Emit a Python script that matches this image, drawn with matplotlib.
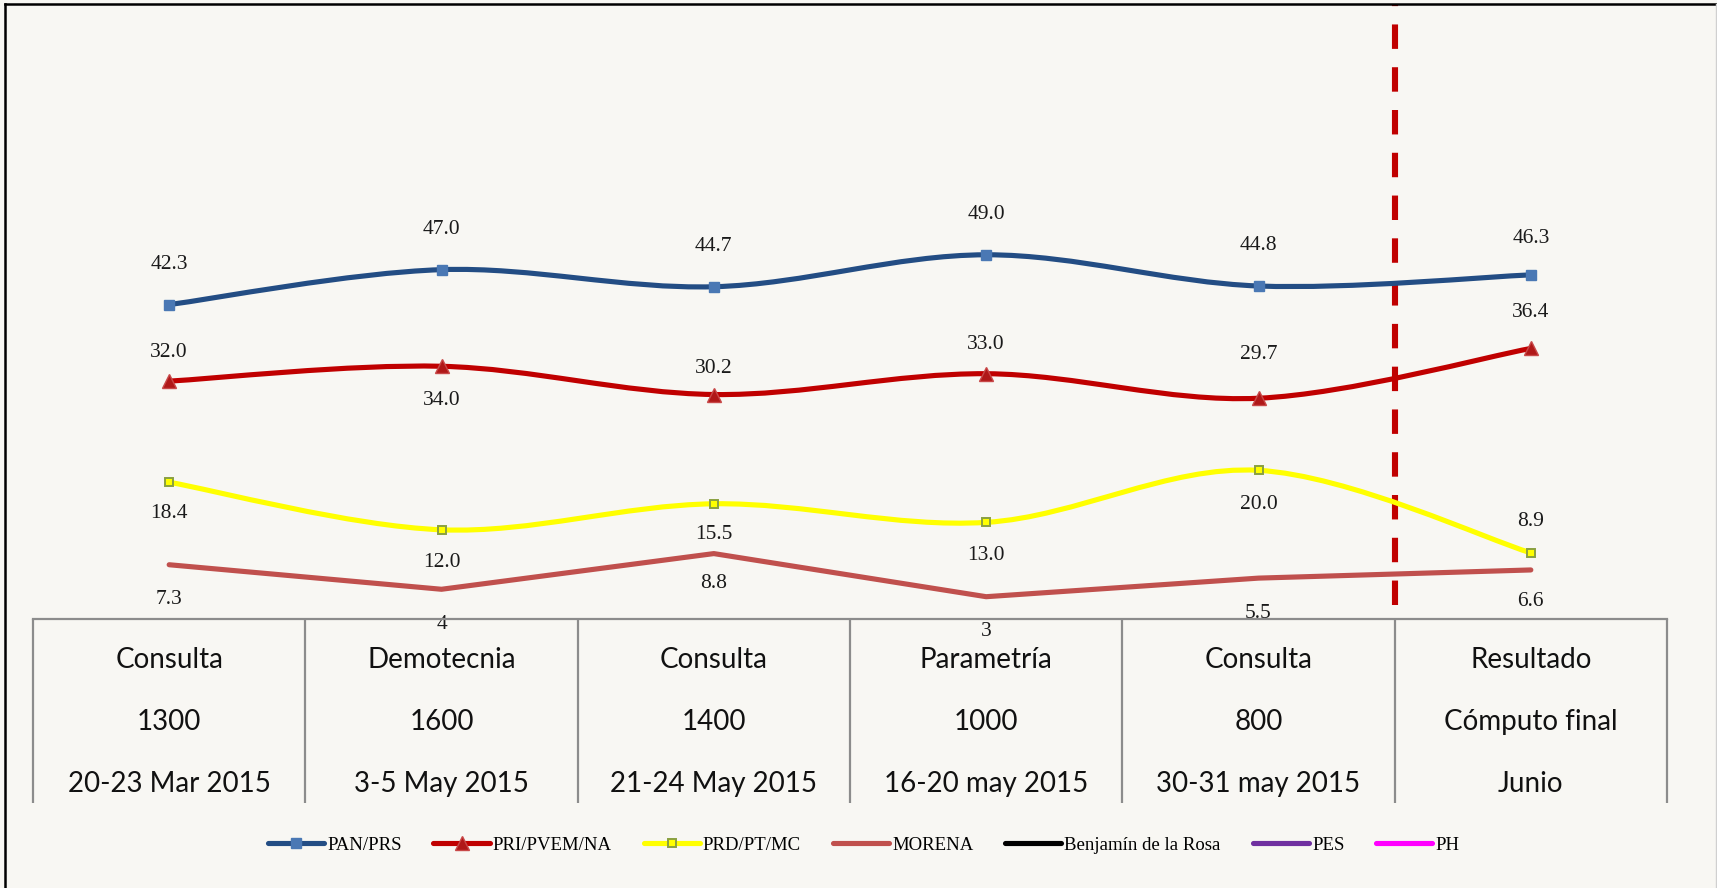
import matplotlib
matplotlib.use("Agg")
import matplotlib.pyplot as plt
from matplotlib.path import Path
from matplotlib.patches import PathPatch
from matplotlib.lines import Line2D

# --- data -------------------------------------------------------------
casas = ["Consulta", "Demotecnia", "Consulta", "Parametría", "Consulta", "Resultado"]
muestras = ["1300", "1600", "1400", "1000", "800", "Cómputo final"]
fechas = ["20-23 Mar 2015", "3-5 May 2015", "21-24 May 2015",
          "16-20 may 2015", "30-31 may 2015", "Junio"]

pan = [42.3, 47.0, 44.7, 49.0, 44.8, 46.3]
pri = [32.0, 34.0, 30.2, 33.0, 29.7, 36.4]
prd = [18.4, 12.0, 15.5, 13.0, 20.0, 8.9]
morena = [7.3, 4, 8.8, 3, 5.5, 6.6]

pan_lbl = ["42.3", "47.0", "44.7", "49.0", "44.8", "46.3"]
pri_lbl = ["32.0", "34.0", "30.2", "33.0", "29.7", "36.4"]
prd_lbl = ["18.4", "12.0", "15.5", "13.0", "20.0", "8.9"]
morena_lbl = ["7.3", "4", "8.8", "3", "5.5", "6.6"]

# label offsets in pixels (positive = above the point)
pan_off = [40, 40, 40, 40, 40, 36]
pri_off = [29, -34, 26, 29, 44, 36]
prd_off = [-31, -33, -31, -33, -34, 31]
morena_off = [-35, -35, -30, -35, -35, -32]

BG = "#f8f7f3"
W, H = 1717, 888

plt.rcParams["font.family"] = ["Liberation Serif", "DejaVu Serif"]

fig = plt.figure(figsize=(W / 100, H / 100), dpi=100, facecolor=BG)

x0, x1 = 33, 1667
y_top, y_axis, y_tab = 8, 619, 805
ax = fig.add_axes([x0 / W, 1 - y_axis / H, (x1 - x0) / W, (y_axis - y_top) / H])
ax.set_facecolor(BG)
ax.set_xlim(-0.5, 5.5)
ax.set_ylim(0, 82.2)
ax.axis("off")

xs = list(range(len(casas)))


def smooth_path(x, y):
    # Excel-style smoothed line: cubic Bezier through every point
    pts = list(zip(x, y))
    verts = [pts[0]]
    codes = [Path.MOVETO]
    n = len(pts)
    for i in range(n - 1):
        p0 = pts[max(i - 1, 0)]
        p1 = pts[i]
        p2 = pts[i + 1]
        p3 = pts[min(i + 2, n - 1)]
        c1 = (p1[0] + (p2[0] - p0[0]) / 6, p1[1] + (p2[1] - p0[1]) / 6)
        c2 = (p2[0] - (p3[0] - p1[0]) / 6, p2[1] - (p3[1] - p1[1]) / 6)
        verts += [c1, c2, p2]
        codes += [Path.CURVE4] * 3
    return Path(verts, codes)


lw = 3.7
series = [
    ("PAN/PRS", pan, pan_lbl, pan_off, "#234d84", dict(marker="s", ms=7, mfc="#4a78b4", mec="#4a78b4"), True),
    ("PRI/PVEM/NA", pri, pri_lbl, pri_off, "#c00000", dict(marker="^", ms=10.5, mfc="#b01818", mec="#c84848"), True),
    ("PRD/PT/MC", prd, prd_lbl, prd_off, "#ffff00", dict(marker="s", ms=5.5, mfc="#ffff00", mec="#8aa040", mew=1.4), True),
    ("MORENA", morena, morena_lbl, morena_off, "#c0504d", dict(), False),
]

handles = []
for name, vals, lbls, offs, color, mk, smooth in series:
    if smooth:
        ax.add_patch(PathPatch(smooth_path(xs, vals), fill=False, edgecolor=color,
                               lw=lw, capstyle="round", joinstyle="round", zorder=3))
    else:
        ax.plot(xs, vals, color=color, lw=lw, solid_capstyle="round", zorder=3)
    if mk:
        ax.plot(xs, vals, ls="none", zorder=4, **mk)
    for xi, v, t, o in zip(xs, vals, lbls, offs):
        ax.annotate(t, (xi, v), xytext=(0, o), textcoords="offset pixels",
                    ha="center", va="center", fontsize=15.5, color="#1a1a1a",
                    annotation_clip=False, zorder=5)
    handles.append(Line2D([], [], color=color, lw=lw, solid_capstyle="round", **mk))

for name, color in [("Benjamín de la Rosa", "#000000"), ("PES", "#7030a0"), ("PH", "#ff00ff")]:
    handles.append(Line2D([], [], color=color, lw=lw, solid_capstyle="round"))

names = [s[0] for s in series] + ["Benjamín de la Rosa", "PES", "PH"]

# dashed separator before the final result
ax.plot([4.5, 4.5], [(y_axis - 605) / (y_axis - y_top) * 82.2, 82.2 + 4 / (y_axis - y_top) * 82.2],
        color="#c00000", lw=4.4, ls=(0, (4, 3)), dash_capstyle="butt",
        clip_on=False, zorder=2)

# category table under the axis
axt = fig.add_axes([x0 / W, 1 - y_tab / H, (x1 - x0) / W, (y_tab - y_axis) / H])
axt.set_facecolor(BG)
axt.set_xlim(-0.5, 5.5)
axt.set_ylim(0, 1)
axt.axis("off")
grey = "#8c8c8c"
axt.plot([-0.5, 5.5], [1, 1], color=grey, lw=1.6, clip_on=False)
axt.vlines([i - 0.5 for i in range(len(casas) + 1)], 0.01, 1, color=grey, lw=1.6, clip_on=False)
for xi, a, b, c in zip(xs, casas, muestras, fechas):
    for yy, t in [(0.78, a), (0.445, b), (0.115, c)]:
        axt.text(xi, yy, t, ha="center", va="center", fontsize=20,
                 family=["Lato", "DejaVu Sans"], color="#111111")

leg = fig.legend(handles, names, loc="center", bbox_to_anchor=(0.503, 1 - 845 / H),
                 ncol=7, frameon=False, fontsize=13.5, handlelength=3.0,
                 handletextpad=0.16, columnspacing=1.7, borderaxespad=0)

# outer frame
fig.add_artist(Line2D([5 / W, 1], [1 - 4 / H, 1 - 4 / H], color="black", lw=1.8))
fig.add_artist(Line2D([5 / W, 5 / W], [0, 1 - 4 / H], color="black", lw=1.8))
fig.add_artist(Line2D([1 - 1.5 / W, 1 - 1.5 / W], [0, 1 - 4 / H], color="#d0d0d0", lw=1))

fig.savefig("out.png", dpi=100, facecolor=BG)
